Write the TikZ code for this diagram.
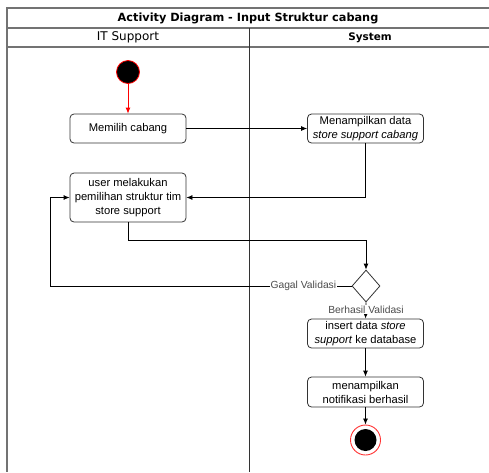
\documentclass[tikz,border=0pt]{standalone}
\usepackage{fontspec}
\setmainfont{Liberation Sans}
\newfontfamily\headfont{DejaVu Sans}
\usetikzlibrary{shapes.geometric, arrows.meta}

\begin{document}
\begin{tikzpicture}[x=1pt, y=-1pt,
	frame/.style = {draw=black!55, line width=1.1pt},
	act/.style = {rectangle, rounded corners=4pt, draw=black!80, line width=0.8pt,
	align=center, inner sep=1.5pt, minimum width=116pt, minimum height=29pt,
	font=\fontsize{11.2}{14}\selectfont},
	edge/.style = {line width=0.8pt, -{Latex[length=6pt, width=5pt]}},
	lbl/.style = {fill=white, inner sep=1pt, text=black!70,
	font=\fontsize{10.3}{12}\selectfont}]

	\useasboundingbox (0,0) rectangle (489,472);

	% swimlanes
	\draw[frame] (489,8) -- (7,8) -- (7,472);
	\draw[frame] (7,28) -- (489,28);
	\draw[frame] (7,47) -- (489,47);
	\draw[line width=0.9pt, black!80] (249,28) -- (249,472);
	\node (title) at (248,18) {\headfont\bfseries\fontsize{11.3}{13}\selectfont Activity Diagram - Input Struktur cabang};
	\node (laneA) at (128,37.5) {\headfont\fontsize{12}{14}\selectfont IT Support};
	\node (laneB) at (370,37.5) {\headfont\bfseries\fontsize{10.4}{12}\selectfont System};

	\node (start) [circle, fill=black, draw=red, line width=0.8pt, minimum size=23pt] at (128,72) {};

	\node (pilih) [act] at (128,128.5) {Memilih cabang};
	\node (tampil) [act] at (365.5,128.5) {Menampilkan data\\\textit{store support cabang}};
	\node (user) [act, minimum height=49pt] at (128,197.5) {user melakukan\\pemilihan struktur tim\\store support};

	\node (cek) [diamond, draw=black!80, line width=0.8pt, minimum width=28pt,
		minimum height=32pt, inner sep=0pt] at (366,286) {};

	\node (insert) [act] at (365.5,333.5) {insert data \textit{store}\\\textit{support} ke database};
	\node (notif) [act, minimum height=30pt] at (365.5,392) {menampilkan\\notifikasi berhasil};

	\node (end) [circle, draw=red!80, fill=white, line width=0.9pt, minimum size=30pt] at (365.5,440) {};
	\node (endin) [circle, fill=black, minimum size=22pt] at (end) {};

	\coordinate (b1) at (128,240);
	\coordinate (b2) at (50,286);

	\draw[edge, red] (start) -- (pilih);
	\draw[edge] (pilih) -- (tampil);
	\draw[edge] (tampil.south) |- (user.east);
	\draw[edge] (user.south) -- (b1) -| (cek.north);
	\draw[edge] (cek.west) -- node [lbl, pos=0.16] {Gagal Validasi} (b2) |- (user.west);
	\draw[edge] (cek.south) -- (insert.north);
	\node (ok) [lbl] at (366,309.5) {Berhasil Validasi};
	\draw[edge] (insert) -- (notif);
	\draw[edge] (notif) -- (end);
\end{tikzpicture}
\end{document}
